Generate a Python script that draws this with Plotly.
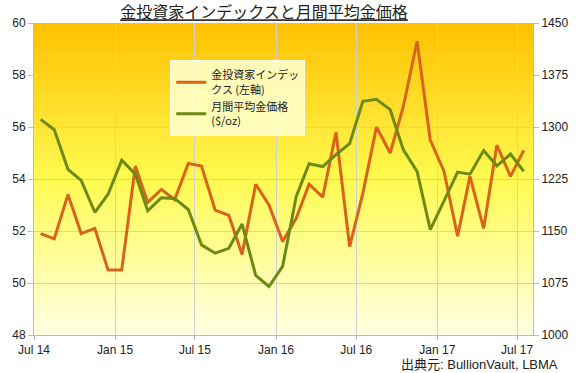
import plotly.graph_objects as go
import pandas as pd

# ---- data ----
months = pd.date_range("2014-07-01", periods=37, freq="MS") + pd.Timedelta(days=15)
investor_index = [51.9, 51.7, 53.4, 51.9, 52.1, 50.5, 50.5, 54.5, 53.1, 53.6,
                  53.2, 54.6, 54.5, 52.8, 52.6, 51.1, 53.8, 53.0, 51.6, 52.5,
                  53.8, 53.3, 55.8, 51.4, 53.45, 56.0, 55.0, 56.8, 59.3, 55.5,
                  54.3, 51.8, 54.1, 52.1, 55.3, 54.1, 55.1]
gold_price = [1311, 1296, 1239, 1223, 1177, 1203, 1252, 1232, 1179, 1198,
              1197, 1181, 1130, 1118, 1125, 1160, 1086, 1070, 1099, 1200,
              1247, 1243, 1260, 1276, 1337, 1340, 1325, 1267, 1236, 1152,
              1193, 1235, 1232, 1266, 1244, 1261, 1236]
tick_dates = ["2014-07-01", "2015-01-01", "2015-07-01", "2016-01-01",
              "2016-07-01", "2017-01-01", "2017-07-01"]
tick_labels = ["Jul 14", "Jan 15", "Jul 15", "Jan 16", "Jul 16", "Jan 17", "Jul 17"]
left_ticks = [48, 50, 52, 54, 56, 58, 60]
right_ticks = [1000, 1075, 1150, 1225, 1300, 1375, 1450]

name_index = "金投資家インデッ<br>クス (左軸)"
name_gold = "月間平均金価格<br>($/oz)"
title = "金投資家インデックスと月間平均金価格"
source = "出典元: BullionVault, LBMA"

ORANGE = "#D8641C"
GREEN = "#6E8A16"
FONT = "Liberation Sans, Arial, Noto Sans CJK JP, sans-serif"
JFONT = "Noto Sans CJK JP, sans-serif"

fig = go.Figure()
fig.add_trace(go.Scatter(x=months, y=investor_index, name=name_index, mode="lines",
                         line=dict(color=ORANGE, width=3), yaxis="y"))
fig.add_trace(go.Scatter(x=months, y=gold_price, name=name_gold, mode="lines",
                         line=dict(color=GREEN, width=3), yaxis="y2"))

# gradient background as stacked bands
def lerp(a, b, t):
    return tuple(int(round(a[i] + (b[i] - a[i]) * t)) for i in range(3))

stops = [(0.0, (255, 192, 0)), (0.5, (255, 250, 80)), (1.0, (255, 255, 228))]
n = 80
shapes = []
for k in range(n):
    t = (k + 0.5) / n  # from top
    for j in range(len(stops) - 1):
        if stops[j][0] <= t <= stops[j + 1][0]:
            c = lerp(stops[j][1], stops[j + 1][1],
                     (t - stops[j][0]) / (stops[j + 1][0] - stops[j][0]))
            break
    y1 = 1 - k / n
    y0 = 1 - (k + 1) / n
    shapes.append(dict(type="rect", xref="paper", yref="paper", x0=0, x1=1,
                       y0=y0 - 0.002, y1=y1, fillcolor="rgb(%d,%d,%d)" % c,
                       line=dict(width=0), layer="below"))

fig.update_layout(
    width=580, height=373,
    margin=dict(l=30, r=37, t=23, b=38),
    paper_bgcolor="white",
    plot_bgcolor="rgba(0,0,0,0)",
    shapes=shapes,
    showlegend=True,
    title=dict(text="<u>" + title + "</u>", xref="paper", x=0.461, xanchor="center",
               yref="container", y=0.981, yanchor="top",
               font=dict(family=JFONT, size=16, color="#222222")),
    legend=dict(x=0.273, y=0.88, xanchor="left", yanchor="top",
                bgcolor="rgba(255,255,200,0.9)", bordercolor="rgba(255,255,230,1)",
                borderwidth=1, font=dict(family=JFONT, size=11, color="#222222"),
                tracegroupgap=8),
    xaxis=dict(type="date", range=["2014-07-01", "2017-08-06"],
               tickvals=tick_dates, ticktext=tick_labels,
               showgrid=True, gridcolor="#D0D0D0", gridwidth=1,
               showline=True, linecolor="#BBBBBB", ticks="outside", ticklen=4,
               tickcolor="#BBBBBB", tickfont=dict(family=FONT, size=12, color="#222222"),
               zeroline=False),
    yaxis=dict(range=[48, 60], tickvals=left_ticks,
               showgrid=True, gridcolor="#D0D0D0", gridwidth=1,
               showline=True, linecolor="#BBBBBB", ticks="outside", ticklen=5,
               tickcolor="#BBBBBB", tickfont=dict(family=FONT, size=12, color="#222222"),
               zeroline=False),
    yaxis2=dict(range=[1000, 1450], tickvals=right_ticks, overlaying="y", side="right",
                showgrid=False, showline=True, linecolor="#BBBBBB", ticks="outside",
                ticklen=5, tickcolor="#BBBBBB",
                tickfont=dict(family=FONT, size=12, color="#222222"), zeroline=False),
    annotations=[dict(text=source, xref="paper", yref="paper", x=1.0546, y=-0.096,
                      xanchor="right", yanchor="middle", showarrow=False,
                      font=dict(family=FONT, size=13, color="#222222"))],
)

fig.write_html("out.html", config={"displayModeBar": False},
               post_script="document.body.style.margin='0';")
